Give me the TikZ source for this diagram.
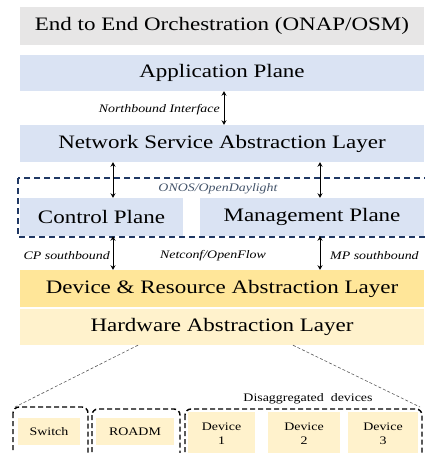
\documentclass[tikz,border=0pt]{standalone}
\usepackage{fontspec}
\setmainfont{Liberation Serif}[FakeStretch=1.21]
\usetikzlibrary{arrows.meta}
\definecolor{orchgray}{HTML}{E7E6E6}
\definecolor{planeblue}{HTML}{DAE3F3}
\definecolor{draly}{HTML}{FFE699}
\definecolor{haly}{HTML}{FFF2CC}
\definecolor{navy}{HTML}{203864}
\definecolor{navytext}{HTML}{44546A}
\begin{document}
\begin{tikzpicture}[x=1pt,y=-1pt,
  layer/.style={rectangle,inner sep=0pt,font=\fontsize{19}{21}\selectfont},
  small/.style={rectangle,inner sep=0pt,fill=haly,font=\fontsize{11.5}{13.5}\selectfont,align=center},
  lbl/.style={inner sep=0pt,font=\fontsize{11.5}{13}\selectfont\itshape},
  arr/.style={line width=0.9pt,{Stealth[length=4.5pt,width=5pt]}-{Stealth[length=4.5pt,width=5pt]}},
  grp/.style={draw=black,line width=1.4pt,dash pattern=on 5pt off 3pt,rounded corners=6pt},
  fan/.style={draw=black!65,line width=0.6pt,dash pattern=on 3pt off 2pt}]
\useasboundingbox (0,0) rectangle (424,453);

% dashed controller group
\draw[navy,line width=1.2pt,dash pattern=on 6pt off 4pt] (18,178) rectangle (440,237);

\node[layer,fill=orchgray,minimum width=404,minimum height=38] (orch) at (222,26) {End to End Orchestration (ONAP/OSM)};
\node[layer,fill=planeblue,minimum width=404,minimum height=36] (app) at (222,73) {Application Plane};
\node[layer,fill=planeblue,minimum width=404,minimum height=37] (nsal) at (222,143.5) {Network Service Abstraction Layer};
\node[layer,fill=planeblue,minimum width=163,minimum height=38] (cp) at (101.5,217) {Control Plane};
\node[layer,fill=planeblue,minimum width=224,minimum height=38] (mp) at (312,217) {Management Plane};
\node[layer,fill=draly,minimum width=404,minimum height=37] (dral) at (222,288.5) {Device \& Resource Abstraction Layer};
\node[layer,fill=haly,minimum width=404,minimum height=36] (hal) at (222,327) {Hardware Abstraction Layer};

% arrow columns
\coordinate (nbx) at (224,0);
\coordinate (cpx) at (113,0);
\coordinate (mpx) at (320,0);
\draw[arr] (app.south -| nbx) -- (nsal.north -| nbx);
\draw[arr] (nsal.south -| cpx) -- (cp.north -| cpx);
\draw[arr] (nsal.south -| mpx) -- (mp.north -| mpx);
\draw[arr] (cp.south -| cpx) -- (dral.north -| cpx);
\draw[arr] (mp.south -| mpx) -- (dral.north -| mpx);

\node[lbl,anchor=east] (nbl) at (220,110) {Northbound Interface};
\node[lbl,text=navytext] (onos) at (218,189) {ONOS/OpenDaylight};
\node[lbl,anchor=east] (cpl) at (110,256) {CP southbound};
\node[lbl] (ncl) at (213,256) {Netconf/OpenFlow};
\node[lbl,anchor=west] (mpl) at (330,256) {MP southbound};

% bottom groups
\draw[grp] (13,407) rectangle (88,470);
\draw[grp] (92,409) rectangle (180,470);
\draw[grp] (185,409) rectangle (422,470);
\coordinate (gl) at (15,407);
\coordinate (gr) at (420,407);
\draw[fan] (hal.south -| 138,0) -- (gl);
\draw[fan] (hal.south -| 293,0) -- (gr);

\node[small,minimum width=62,minimum height=27] (sw) at (49,431.5) {Switch};
\node[small,minimum width=78,minimum height=27] (roadm) at (135,431.5) {ROADM};
\node[small,minimum width=67,minimum height=43] (d1) at (221.5,433.5) {Device\\1};
\node[small,minimum width=72,minimum height=43] (d2) at (304,433.5) {Device\\2};
\node[small,minimum width=70,minimum height=43] (d3) at (383,433.5) {Device\\3};
\node[inner sep=0pt,font=\fontsize{11.5}{13}\selectfont] (dis) at (308,399) {Disaggregated\ \ devices};
\end{tikzpicture}
\end{document}
